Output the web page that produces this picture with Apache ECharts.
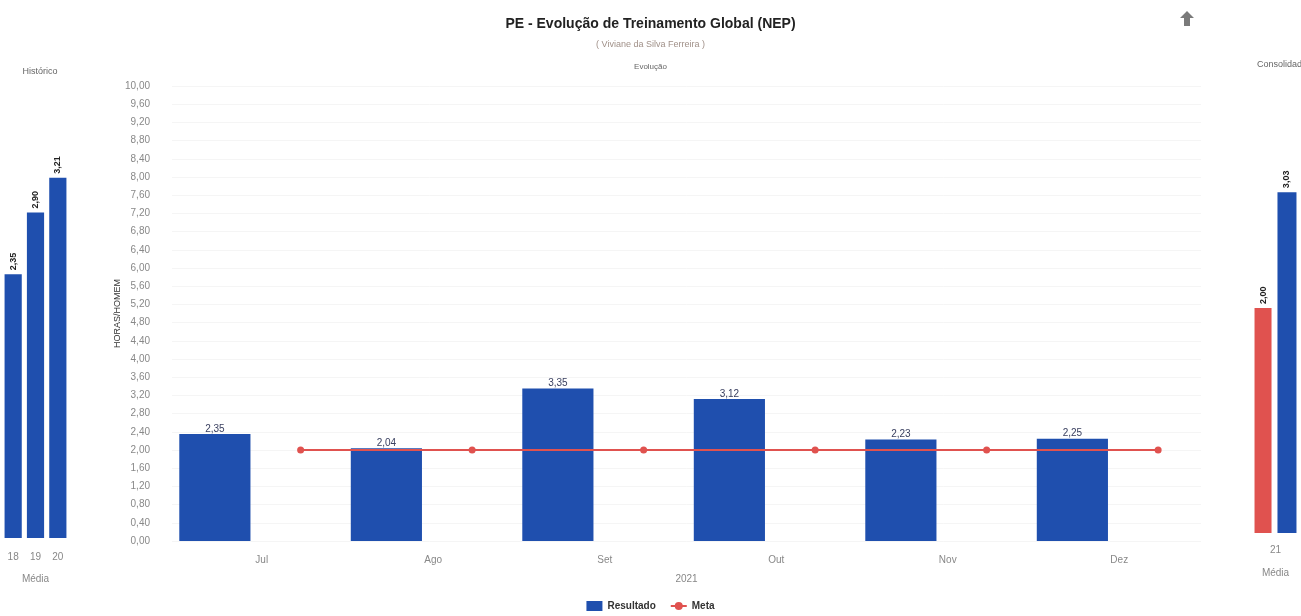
<!DOCTYPE html>
<html>
<head>
<meta charset="utf-8">
<script src="https://cdn.jsdelivr.net/npm/echarts@6/dist/echarts.min.js"></script>
<style>
html,body{margin:0;padding:0;background:#fff;}
#c{width:1301px;height:616px;}
</style>
</head>
<body>
<div id="c"></div>
<script>
// ---- data ----
var months = ['Jul', 'Ago', 'Set', 'Out', 'Nov', 'Dez'];
var resultado = [2.35, 2.04, 3.35, 3.12, 2.23, 2.25];
var meta = [2.00, 2.00, 2.00, 2.00, 2.00, 2.00];
var histYears = ['18', '19', '20'];
var histValues = [2.35, 2.90, 3.21];
var consYears = ['21'];
var consMeta = [2.00];
var consResultado = [3.03];
var yTicksMin = 0, yTicksMax = 10, yTicksStep = 0.4;

var BLUE = '#1f4fae';
var RED = '#e0524f';
var FONT = 'Liberation Sans, Arial, sans-serif';
function fmt(v) { return Number(v).toFixed(2).replace('.', ','); }

// two slots per month: bar in the left slot, meta point in the right slot
var slots = [];
var resSlots = [];
var metaSlots = [];
months.forEach(function (m, i) {
  slots.push(m + 'a', m + 'b');
  resSlots.push(resultado[i], '-');
  metaSlots.push('-', meta[i]);
});

var chart = echarts.init(document.getElementById('c'), null, {renderer: 'canvas'});
var sideLabel = {
  show: true, position: 'top', rotate: 90, align: 'left', verticalAlign: 'middle',
  distance: 4, fontSize: 9, fontWeight: 'bold', color: '#222', fontFamily: FONT,
  formatter: function (p) { return fmt(p.value); }
};
var option = {
  backgroundColor: '#fff',
  animation: false,
  textStyle: {fontFamily: FONT},
  title: [
    {text: 'PE - Evolução de Treinamento Global (NEP)', left: 'center', top: 12,
     textStyle: {fontSize: 14, fontWeight: 'bold', color: '#222', fontFamily: FONT}},
    {text: '( Viviane da Silva Ferreira )', left: 'center', top: 35,
     textStyle: {fontSize: 9, fontWeight: 'normal', color: '#a09088', fontFamily: FONT}},
    {text: 'Evolução', left: 'center', top: 58,
     textStyle: {fontSize: 8, fontWeight: 'normal', color: '#666', fontFamily: FONT}},
    {text: 'Histórico', left: 35, top: 62, textAlign: 'center',
     textStyle: {fontSize: 9, fontWeight: 'normal', color: '#666', fontFamily: FONT}},
    {text: 'Consolidado', left: 1252, top: 55,
     textStyle: {fontSize: 9, fontWeight: 'normal', color: '#666', fontFamily: FONT}}
  ],
  graphic: [
    {type: 'polygon', left: 1180, top: 11,
     shape: {points: [[7, 0], [14, 7], [10, 7], [10, 15], [4, 15], [4, 7], [0, 7]]},
     style: {fill: '#7a7a7a'}}
  ],
  legend: {
    bottom: 0, left: 'center', itemWidth: 16, itemHeight: 10, itemGap: 14,
    textStyle: {fontSize: 10, fontWeight: 'bold', color: '#333', fontFamily: FONT},
    data: [{name: 'Resultado', icon: 'rect'}, {name: 'Meta'}]
  },
  grid: [
    {left: 2, width: 67, top: 89, bottom: 78},
    {left: 172, right: 100, top: 86, bottom: 75},
    {left: 1250, width: 51, top: 83, bottom: 83}
  ],
  xAxis: [
    {gridIndex: 0, type: 'category', data: histYears,
     axisLine: {show: false}, axisTick: {show: false},
     axisLabel: {fontSize: 10, color: '#888', margin: 14},
     name: 'Média', nameLocation: 'middle', nameGap: 36,
     nameTextStyle: {fontSize: 10, color: '#888'}},
    {gridIndex: 1, type: 'category', data: months,
     axisLine: {show: false}, axisTick: {show: false},
     axisLabel: {fontSize: 10, color: '#888', margin: 14, padding: [0, 0, 0, 8]},
     name: '2021', nameLocation: 'middle', nameGap: 33,
     nameTextStyle: {fontSize: 10, color: '#888'}},
    {gridIndex: 1, type: 'category', data: slots, show: false},
    {gridIndex: 2, type: 'category', data: consYears,
     axisLine: {show: false}, axisTick: {show: false},
     axisLabel: {fontSize: 10, color: '#888', margin: 12},
     name: 'Média', nameLocation: 'middle', nameGap: 35,
     nameTextStyle: {fontSize: 10, color: '#888'}}
  ],
  yAxis: [
    {gridIndex: 0, type: 'value', min: 0, max: 4, show: false, splitLine: {show: false}},
    {gridIndex: 1, type: 'value', min: yTicksMin, max: yTicksMax, interval: yTicksStep,
     axisLine: {show: false}, axisTick: {show: false},
     splitLine: {show: true, lineStyle: {color: '#f5f5f5', width: 1}},
     axisLabel: {fontSize: 10, color: '#888', margin: 22, formatter: fmt},
     name: 'HORAS/HOMEM', nameLocation: 'middle', nameGap: 50, nameRotate: 90,
     nameMoveOverlap: false,
     nameTextStyle: {fontSize: 9, color: '#333'}},
    {gridIndex: 2, type: 'value', min: 0, max: 4, show: false, splitLine: {show: false}}
  ],
  series: [
    {name: 'Resultado', type: 'bar', xAxisIndex: 0, yAxisIndex: 0, data: histValues,
     barWidth: '77%', itemStyle: {color: BLUE}, label: sideLabel},
    {name: 'Resultado', type: 'bar', xAxisIndex: 2, yAxisIndex: 1, data: resSlots,
     barWidth: '83%', itemStyle: {color: BLUE},
     label: {show: true, position: 'top', distance: 0, fontSize: 10, color: '#3a4060',
             formatter: function (p) { return fmt(p.value); }}},
    {name: 'Meta', type: 'line', xAxisIndex: 2, yAxisIndex: 1, data: metaSlots,
     connectNulls: true, symbol: 'circle', symbolSize: 7,
     lineStyle: {color: RED, width: 2}, itemStyle: {color: RED}},
    {name: 'Meta', type: 'bar', xAxisIndex: 3, yAxisIndex: 2, data: consMeta,
     barWidth: 17, barGap: '35%', itemStyle: {color: RED}, label: sideLabel},
    {name: 'Resultado', type: 'bar', xAxisIndex: 3, yAxisIndex: 2, data: consResultado,
     barWidth: 19, barGap: '35%', itemStyle: {color: BLUE}, label: sideLabel}
  ]
};
chart.setOption(option);
</script>
</body>
</html>
